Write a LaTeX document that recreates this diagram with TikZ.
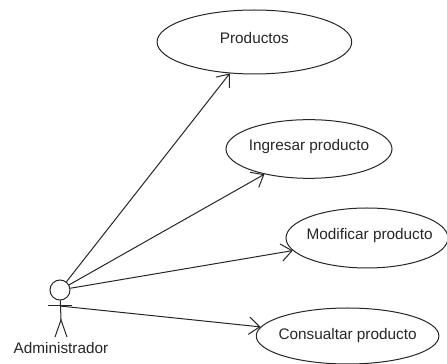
\documentclass[tikz,border=0pt]{standalone}
\usepackage{fontspec}
\setmainfont{Liberation Sans}
\usetikzlibrary{shapes.geometric,arrows.meta}
\newcommand{\rotulo}[1]{\makebox[0pt]{#1}}
\tikzset{
  caso/.style={draw=black!85,ellipse,inner sep=0pt,font=\fontsize{11.5}{13}\selectfont,text=black!85,text height=8pt,text depth=5pt},
  uso/.style={draw=black!85,-{Straight Barb[length=8pt,width=13pt]}},
  actor/.style={draw=black!85}
}
\begin{document}
\begin{tikzpicture}[x=30pt,y=30pt,line width=0.75pt]
\useasboundingbox (0,0) rectangle (11.175,9.1);
%casos de uso
\node[caso,minimum width=146pt,minimum height=48pt] (productos) at (6.36,8.05) {\rotulo{Productos}};
\node[caso,minimum width=124.5pt,minimum height=44pt] (ingresar) at (7.725,5.375) {\rotulo{Ingresar producto}};
\node[caso,minimum width=121.5pt,minimum height=45pt] (modificar) at (9.175,3.15) {\rotulo{\hspace{4pt}Modificar producto}};
\node[caso,minimum width=137pt,minimum height=42pt,text depth=3pt] (consultar) at (8.69,0.7) {\rotulo{Consualtar producto}};
%actor
\node[actor,circle,inner sep=0pt,minimum size=15pt] (cabeza) at (1.5,1.85) {};
\coordinate (hombro) at (1.5,1.45);
\coordinate (brazoizq) at (1.2,1.45);
\coordinate (brazoder) at (1.8,1.45);
\coordinate (cadera) at (1.525,1.1);
\coordinate (pieizq) at (1.375,0.675);
\coordinate (pieder) at (1.675,0.675);
\draw[actor] (cabeza) -- (cadera);
\draw[actor] (brazoizq) -- (brazoder);
\draw[actor] (pieizq) -- (cadera) -- (pieder);
\node[font=\fontsize{11.5}{13}\selectfont,text=black!85,inner sep=0pt] (administrador) at (1.525,0.4) {Administrador};
%asociaciones
\draw[uso] (cabeza) -- (productos);
\draw[uso] (cabeza) -- (ingresar);
\draw[uso] (cabeza) -- (modificar);
\draw[uso] (hombro) -- (consultar);
\end{tikzpicture}
\end{document}
